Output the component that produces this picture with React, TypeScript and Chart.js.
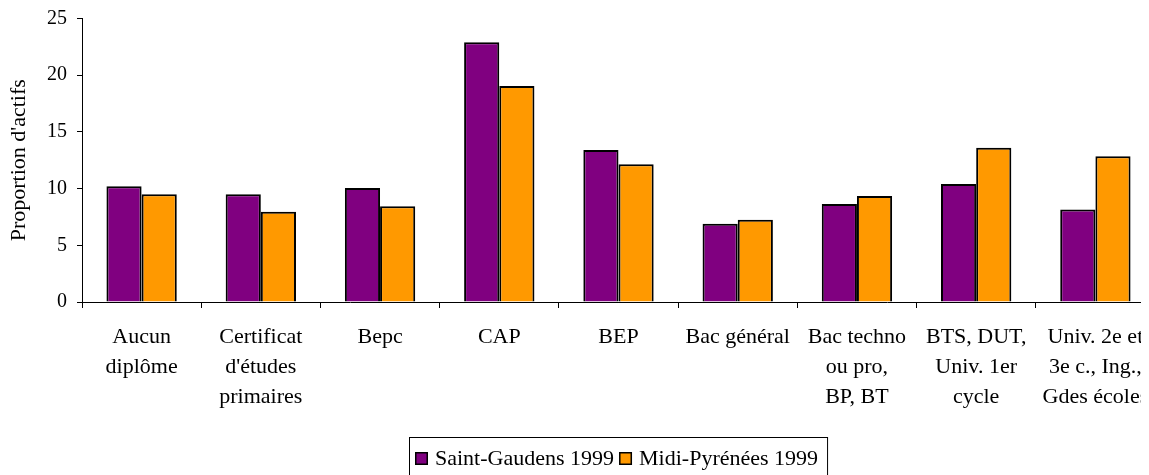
import { useEffect, useRef } from "react";
import { Chart, registerables } from "chart.js";

Chart.register(...registerables);

const FONT = "'Liberation Serif', 'Times New Roman', serif";

const categories: string[][] = [
  ["Aucun", "diplôme"],
  ["Certificat", "d'études", "primaires"],
  ["Bepc"],
  ["CAP"],
  ["BEP"],
  ["Bac général"],
  ["Bac techno", "ou pro,", "BP, BT"],
  ["BTS, DUT,", "Univ. 1er", "cycle"],
  ["Univ. 2e et", "3e c., Ing.,", "Gdes écoles"],
];

const seriesNames = ["Saint-Gaudens 1999", "Midi-Pyrénées 1999"];
const seriesColors = ["#800080", "#FF9900"];

const saintGaudens = [10.2, 9.5, 10.05, 22.9, 13.4, 6.9, 8.65, 10.4, 8.15];
const midiPyrenees = [9.5, 7.95, 8.45, 19.05, 12.15, 7.25, 9.35, 13.6, 12.85];

const yMin = 0;
const yMax = 25;
const yStep = 5;
const yTitle = "Proportion d'actifs";

const boxLegend = {
  id: "boxLegend",
  afterDraw(chart: any) {
    const ctx: CanvasRenderingContext2D = chart.ctx;
    const { left, right } = chart.chartArea;
    ctx.save();
    ctx.font = `22px ${FONT}`;
    const sq = 13;
    const padL = 6;
    const padR = 9;
    const gapText = 7;
    const gapItem = 5;
    const ds = chart.data.datasets;
    const widths = ds.map((d: any) => ctx.measureText(d.label).width);
    let total = padL + padR;
    widths.forEach((w: number, i: number) => {
      total += sq + gapText + w + (i > 0 ? gapItem : 0);
    });
    const x0 = Math.round((left + right) / 2 - total / 2);
    const top = chart.height - 38;
    ctx.strokeStyle = "#000";
    ctx.lineWidth = 1;
    ctx.strokeRect(x0 + 0.5, top + 0.5, total, 80);
    let x = x0 + padL;
    const baseline = top + 28;
    ds.forEach((d: any, i: number) => {
      ctx.fillStyle = d.backgroundColor;
      ctx.fillRect(x, baseline - 13, sq, sq);
      ctx.strokeStyle = "#000";
      ctx.lineWidth = 1.5;
      ctx.strokeRect(x + 0.75, baseline - 13 + 0.75, sq - 1.5, sq - 1.5);
      x += sq + gapText;
      ctx.fillStyle = "#000";
      ctx.textBaseline = "alphabetic";
      ctx.textAlign = "left";
      ctx.fillText(d.label, x, baseline);
      x += widths[i] + gapItem;
    });
    ctx.restore();
  },
};

export default function App() {
  const ref = useRef<HTMLCanvasElement | null>(null);

  useEffect(() => {
    document.body.style.overflow = "hidden";
    document.documentElement.style.overflow = "hidden";
    if (!ref.current) return;
    const chart = new Chart(ref.current, {
      type: "bar",
      data: {
        labels: categories,
        datasets: [
          {
            label: seriesNames[0],
            data: saintGaudens,
            backgroundColor: seriesColors[0],
            borderColor: "#000",
            borderWidth: 2,
            categoryPercentage: 0.59,
            barPercentage: 1,
          },
          {
            label: seriesNames[1],
            data: midiPyrenees,
            backgroundColor: seriesColors[1],
            borderColor: "#000",
            borderWidth: 2,
            categoryPercentage: 0.59,
            barPercentage: 1,
          },
        ],
      },
      options: {
        animation: false,
        responsive: false,
        maintainAspectRatio: false,
        layout: { padding: { top: 2, right: 13, bottom: 45, left: 0 } },
        plugins: {
          legend: { display: false },
          tooltip: { enabled: false },
        },
        scales: {
          x: {
            grid: {
              drawOnChartArea: false,
              drawTicks: true,
              tickLength: 6,
              color: "#000",
              offset: true,
            },
            border: { color: "#000", width: 1 },
            ticks: {
              color: "#000",
              font: { family: FONT, size: 22, lineHeight: 30 / 22 },
              padding: 14,
              maxRotation: 0,
              minRotation: 0,
              autoSkip: false,
            },
            afterFit: (s: any) => {
              s.height = 128;
            },
          },
          y: {
            min: yMin,
            max: yMax,
            grid: {
              drawOnChartArea: false,
              drawTicks: true,
              tickLength: 5,
              color: "#000",
            },
            border: { color: "#000", width: 1 },
            ticks: {
              stepSize: yStep,
              color: "#000",
              font: { family: FONT, size: 20, lineHeight: 0.05 },
              padding: 10,
            },
            title: {
              display: true,
              text: yTitle,
              color: "#000",
              font: { family: FONT, size: 22, lineHeight: 1 },
              padding: 0,
            },
            afterFit: (s: any) => {
              s.width = 74;
            },
          },
        },
      },
      plugins: [boxLegend],
    });
    return () => chart.destroy();
  }, []);

  return (
    <div style={{ width: 1141, height: 467, overflow: "hidden" }}>
      <canvas ref={ref} width={1160} height={467} style={{ display: "block" }} />
    </div>
  );
}
